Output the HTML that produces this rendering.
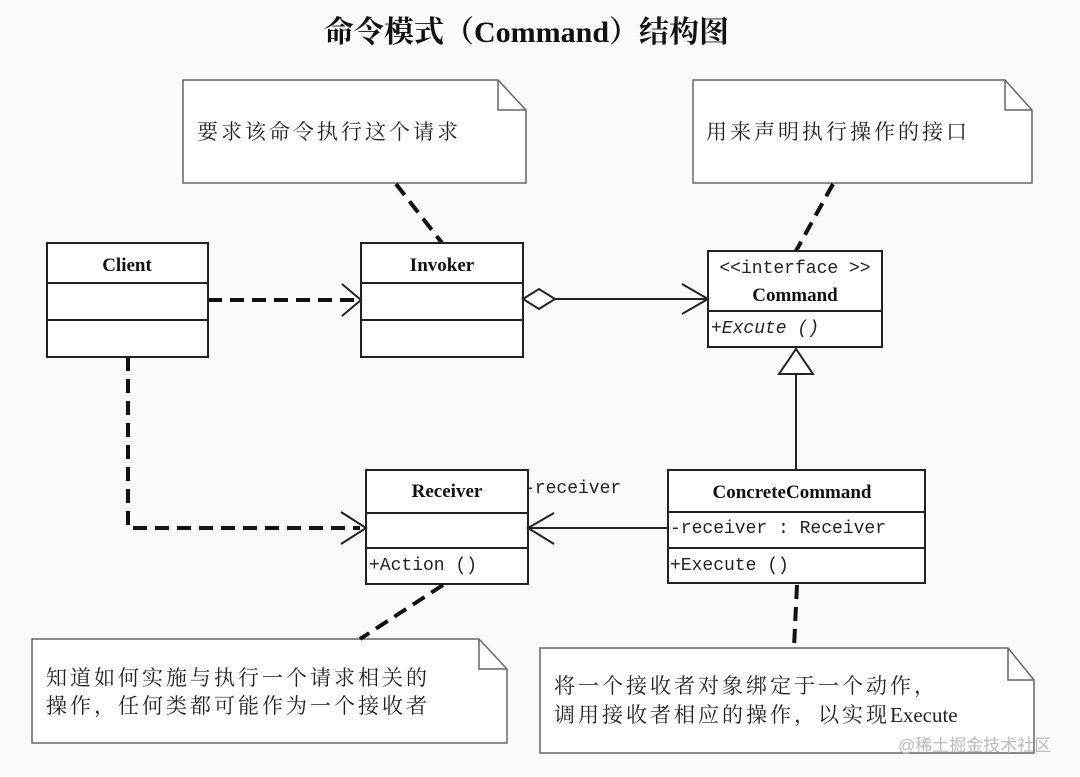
<!DOCTYPE html>
<html><head><meta charset="utf-8"><style>
html,body{margin:0;padding:0;background:#fafafa;}
svg{display:block}
.cn{font-family:"Liberation Serif","Noto Serif CJK SC","Noto Sans CJK SC",serif;}
.b{font-family:"Liberation Serif",serif;font-weight:bold;font-size:19px;}
.m{font-family:"Liberation Mono","DejaVu Sans Mono",monospace;font-size:18px;fill:#222}
</style></head><body>
<svg width="1080" height="777" viewBox="0 0 1080 777" xmlns="http://www.w3.org/2000/svg">
<rect width="1080" height="777" fill="#fafafa"/>
<text x="324" y="42" class="cn" font-size="30" font-weight="bold" fill="#111">命令模式（<tspan font-family="Liberation Serif">Command</tspan>）结构图</text>

<g fill="#fff" stroke="#666" stroke-width="1.5">
<path d="M183 80 H498 L526 110 V183 H183 Z"/><path d="M498 80 V110 H526" fill="none"/>
<path d="M693 80 H1005 L1032 110 V183 H693 Z"/><path d="M1005 80 V110 H1032" fill="none"/>
<path d="M32 639 H479 L507 669 V743 H32 Z"/><path d="M479 639 V669 H507" fill="none"/>
<path d="M540 648 H1008 L1034 680 V753 H540 Z"/><path d="M1008 648 V680 H1034" fill="none"/>
</g>
<g class="cn" font-size="21" fill="#222" letter-spacing="3">
<text x="197" y="139">要求该命令执行这个请求</text>
<text x="706" y="139">用来声明执行操作的接口</text>
<text x="46" y="685">知道如何实施与执行一个请求相关的</text>
<text x="46" y="713">操作，任何类都可能作为一个接收者</text>
<text x="554" y="693">将一个接收者对象绑定于一个动作，</text>
<text x="554" y="722">调用接收者相应的操作，以实现<tspan letter-spacing="0">Execute</tspan></text>
</g>

<g stroke="#111" stroke-width="4" stroke-dasharray="14,8" fill="none">
<line x1="396" y1="184" x2="442" y2="243"/>
<line x1="833" y1="184" x2="796" y2="251"/>
<line x1="443" y1="585" x2="360" y2="639"/>
<line x1="797" y1="585" x2="794" y2="648"/>
<line x1="208" y1="300" x2="355" y2="300"/>
<polyline points="128,357 128,528 360,528"/>
</g>

<g fill="#fff" stroke="#222" stroke-width="2">
<rect x="47" y="243" width="161" height="114"/><line x1="47" y1="283" x2="208" y2="283"/><line x1="47" y1="320" x2="208" y2="320"/>
<rect x="361" y="243" width="162" height="114"/><line x1="361" y1="283" x2="523" y2="283"/><line x1="361" y1="320" x2="523" y2="320"/>
<rect x="708" y="251" width="174" height="96"/><line x1="708" y1="311" x2="882" y2="311"/>
<rect x="668" y="470" width="257" height="113"/><line x1="668" y1="512" x2="925" y2="512"/><line x1="668" y1="548" x2="925" y2="548"/>
<rect x="366" y="470" width="162" height="114"/><line x1="366" y1="513" x2="528" y2="513"/><line x1="366" y1="548" x2="528" y2="548"/>
</g>

<g stroke="#222" stroke-width="2" fill="none">
<polyline points="342,284 361,300 342,316"/>
<polyline points="341,512 366,528 341,544"/>
<path d="M523 299 L539 289 L555 299 L539 309 Z" fill="#fff"/>
<line x1="555" y1="299" x2="708" y2="299"/>
<polyline points="682,284 708,299 682,314"/>
<line x1="668" y1="528" x2="528" y2="528"/>
<polyline points="554,513 528,528 554,544"/>
<line x1="796" y1="374" x2="796" y2="470"/>
<path d="M796 349 L779 374 L813 374 Z" fill="#fff"/>
</g>

<text x="127" y="271" class="b" text-anchor="middle" fill="#111">Client</text>
<text x="442" y="271" class="b" text-anchor="middle" fill="#111">Invoker</text>
<text x="447" y="497" class="b" text-anchor="middle" fill="#111">Receiver</text>
<text x="792" y="498" class="b" text-anchor="middle" fill="#111">ConcreteCommand</text>
<text x="795" y="301" class="b" text-anchor="middle" fill="#111">Command</text>
<text x="795" y="273" class="m" font-size="19" text-anchor="middle">&lt;&lt;interface &gt;&gt;</text>
<text x="711" y="333" class="m" font-style="italic" font-size="17">+Excute ()</text>
<text x="369" y="570" class="m">+Action ()</text>
<text x="670" y="533" class="m">-receiver  : Receiver</text>
<text x="670" y="570" class="m">+Execute ()</text>
<text x="524" y="493" class="m">-receiver</text>
<text x="898" y="751" font-family="Liberation Sans,Noto Sans CJK SC,sans-serif" font-size="17" fill="#bbb">@稀土掘金技术社区</text>
</svg>
</body></html>
